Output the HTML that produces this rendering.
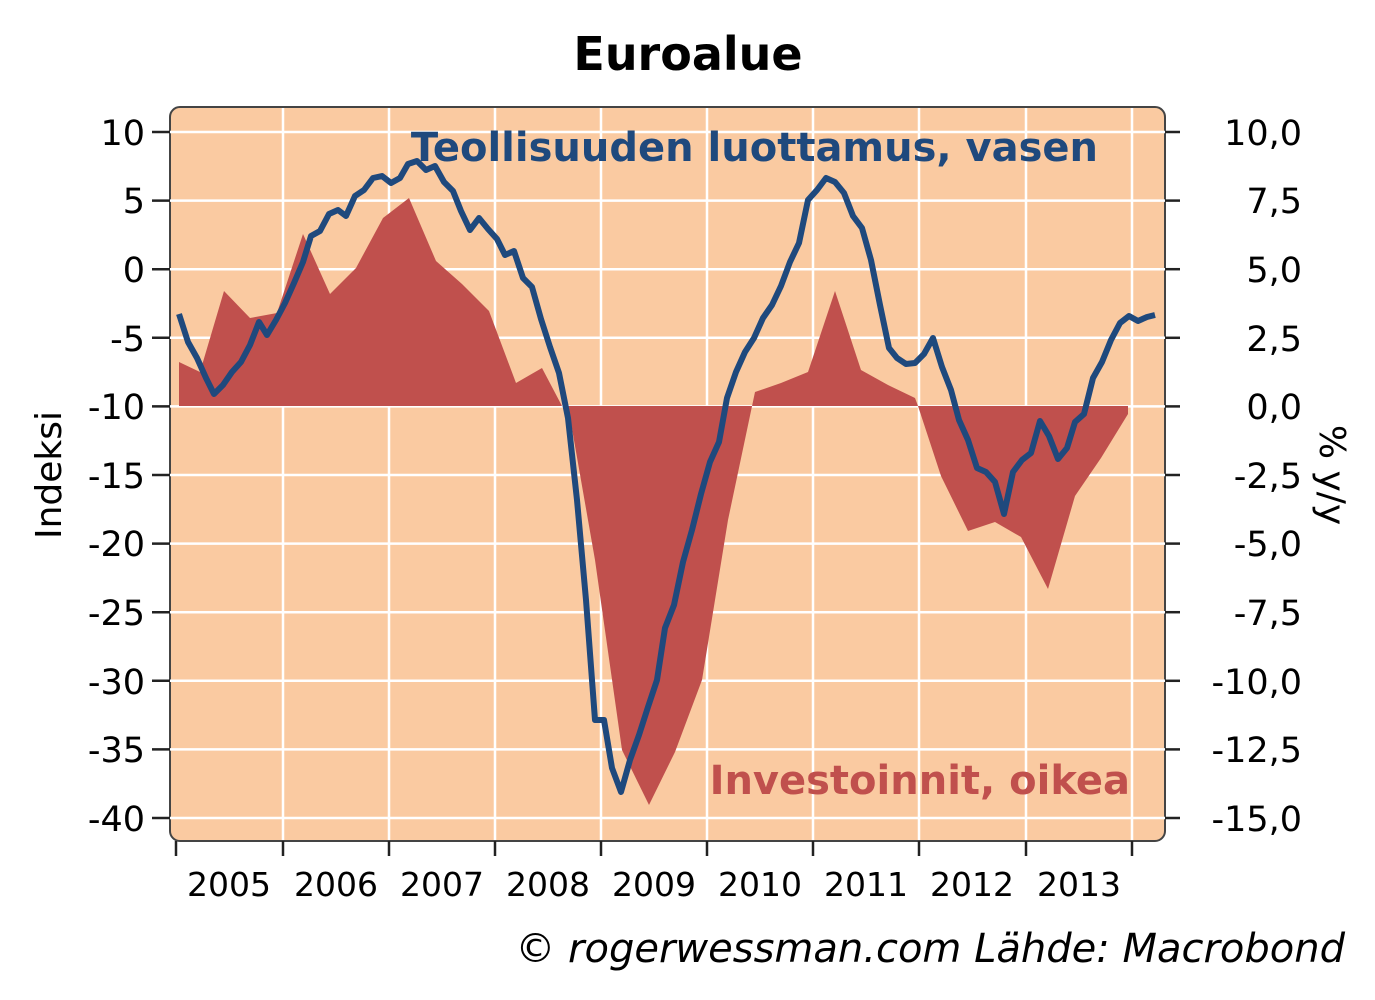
<!DOCTYPE html>
<html><head><meta charset="utf-8"><style>body{margin:0;background:#fff}svg{display:block}text{font-family:"DejaVu Sans","Liberation Sans",sans-serif}</style></head><body>
<svg width="1375" height="1000" viewBox="0 0 1375 1000">
<text x="688" y="70" font-size="46" font-weight="bold" text-anchor="middle">Euroalue</text>
<rect x="170" y="107" width="995" height="734" rx="10" fill="#facaa1" stroke="#444" stroke-width="2"/>
<g stroke="#fff" stroke-width="2.5">
<line x1="170" y1="132" x2="1165" y2="132"/><line x1="170" y1="200.6" x2="1165" y2="200.6"/><line x1="170" y1="269.2" x2="1165" y2="269.2"/><line x1="170" y1="337.8" x2="1165" y2="337.8"/><line x1="170" y1="406.4" x2="1165" y2="406.4"/><line x1="170" y1="475" x2="1165" y2="475"/><line x1="170" y1="543.6" x2="1165" y2="543.6"/><line x1="170" y1="612.2" x2="1165" y2="612.2"/><line x1="170" y1="680.8" x2="1165" y2="680.8"/><line x1="170" y1="749.4" x2="1165" y2="749.4"/><line x1="170" y1="818" x2="1165" y2="818"/>
<line x1="283" y1="108" x2="283" y2="840"/><line x1="389" y1="108" x2="389" y2="840"/><line x1="495" y1="108" x2="495" y2="840"/><line x1="601" y1="108" x2="601" y2="840"/><line x1="707" y1="108" x2="707" y2="840"/><line x1="813" y1="108" x2="813" y2="840"/><line x1="919" y1="108" x2="919" y2="840"/><line x1="1026" y1="108" x2="1026" y2="840"/><line x1="1132" y1="108" x2="1132" y2="840"/>
</g>
<polygon fill="#c0504d" points="179,406 179,362 200,372 224,291 250,318 277,313 303,234 330,294 356,268 383,218 409,198 436,261 462,284 489,311 516,383 542,368 562,406 568,406 595,560 622,750 649,805 675,752 702,680 728,520 755,392 781,383 808,372 835,291 861,370 888,385 915,398 918,406 941,476 968,531 995,522 1021,537 1048,589 1075,496 1101,458 1128,414 1128,406"/>
<polyline fill="none" stroke="#1f497d" stroke-width="6" stroke-linejoin="round" points="179,314 188,342 197,358 206,378 214,394 223,385 232,372 241,362 250,345 259,322 267,335 276,320 285,303 294,283 303,262 311,236 320,231 329,214 338,210 346,216 355,196 364,190 373,178 382,176 391,183 400,178 408,164 417,161 426,170 435,166 444,182 453,191 461,211 470,230 479,218 488,229 497,239 505,255 514,251 523,278 532,287 541,319 550,347 559,373 568,418 577,500 586,600 595,720 604,720 612,768 621,792 630,760 639,735 648,707 657,680 665,628 674,605 683,562 692,530 701,494 710,462 719,442 727,398 736,372 745,352 754,338 763,318 772,305 781,286 790,262 799,243 808,200 817,190 826,178 835,182 844,193 853,216 862,228 871,260 880,305 889,348 897,358 906,364 915,363 924,354 933,338 942,367 951,390 959,420 968,440 977,468 986,472 995,482 1004,514 1013,472 1022,460 1031,453 1040,421 1049,436 1058,459 1067,448 1075,422 1084,414 1093,378 1102,362 1111,340 1120,323 1129,316 1138,321 1147,317 1155,315"/>
<text x="1098" y="161" font-size="40" font-weight="bold" fill="#1f497d" text-anchor="end">Teollisuuden luottamus, vasen</text>
<text x="1130" y="794" font-size="40" font-weight="bold" fill="#c0504d" text-anchor="end">Investoinnit, oikea</text>
<g stroke="#222" stroke-width="2.5">
<line x1="152" y1="132" x2="170" y2="132"/><line x1="152" y1="200.6" x2="170" y2="200.6"/><line x1="152" y1="269.2" x2="170" y2="269.2"/><line x1="152" y1="337.8" x2="170" y2="337.8"/><line x1="152" y1="406.4" x2="170" y2="406.4"/><line x1="152" y1="475" x2="170" y2="475"/><line x1="152" y1="543.6" x2="170" y2="543.6"/><line x1="152" y1="612.2" x2="170" y2="612.2"/><line x1="152" y1="680.8" x2="170" y2="680.8"/><line x1="152" y1="749.4" x2="170" y2="749.4"/><line x1="152" y1="818" x2="170" y2="818"/>
<line x1="1165" y1="132" x2="1180" y2="132"/><line x1="1165" y1="200.6" x2="1180" y2="200.6"/><line x1="1165" y1="269.2" x2="1180" y2="269.2"/><line x1="1165" y1="337.8" x2="1180" y2="337.8"/><line x1="1165" y1="406.4" x2="1180" y2="406.4"/><line x1="1165" y1="475" x2="1180" y2="475"/><line x1="1165" y1="543.6" x2="1180" y2="543.6"/><line x1="1165" y1="612.2" x2="1180" y2="612.2"/><line x1="1165" y1="680.8" x2="1180" y2="680.8"/><line x1="1165" y1="749.4" x2="1180" y2="749.4"/><line x1="1165" y1="818" x2="1180" y2="818"/>
<line x1="176" y1="841" x2="176" y2="856"/><line x1="283" y1="841" x2="283" y2="856"/><line x1="389" y1="841" x2="389" y2="856"/><line x1="495" y1="841" x2="495" y2="856"/><line x1="601" y1="841" x2="601" y2="856"/><line x1="707" y1="841" x2="707" y2="856"/><line x1="813" y1="841" x2="813" y2="856"/><line x1="919" y1="841" x2="919" y2="856"/><line x1="1026" y1="841" x2="1026" y2="856"/><line x1="1132" y1="841" x2="1132" y2="856"/>
</g>
<g font-size="35" text-anchor="end">
<text x="145" y="145">10</text><text x="145" y="213">5</text><text x="145" y="282">0</text><text x="145" y="351">-5</text><text x="145" y="419">-10</text><text x="145" y="488">-15</text><text x="145" y="556">-20</text><text x="145" y="625">-25</text><text x="145" y="694">-30</text><text x="145" y="762">-35</text><text x="145" y="831">-40</text>
<text x="1302" y="145">10,0</text><text x="1302" y="213">7,5</text><text x="1302" y="282">5,0</text><text x="1302" y="351">2,5</text><text x="1302" y="419">0,0</text><text x="1302" y="488">-2,5</text><text x="1302" y="556">-5,0</text><text x="1302" y="625">-7,5</text><text x="1302" y="694">-10,0</text><text x="1302" y="762">-12,5</text><text x="1302" y="831">-15,0</text>
</g>
<g font-size="33" text-anchor="middle">
<text x="229" y="896">2005</text><text x="336" y="896">2006</text><text x="442" y="896">2007</text><text x="548" y="896">2008</text><text x="654" y="896">2009</text><text x="760" y="896">2010</text><text x="866" y="896">2011</text><text x="972" y="896">2012</text><text x="1079" y="896">2013</text>
</g>
<text transform="translate(61,475) rotate(-90)" font-size="36" text-anchor="middle">Indeksi</text>
<text transform="translate(1320,475) rotate(90)" font-size="36" text-anchor="middle">% y/y</text>
<text x="1345" y="962" font-size="40" font-style="italic" text-anchor="end">© rogerwessman.com Lähde: Macrobond</text>
</svg>
</body></html>
